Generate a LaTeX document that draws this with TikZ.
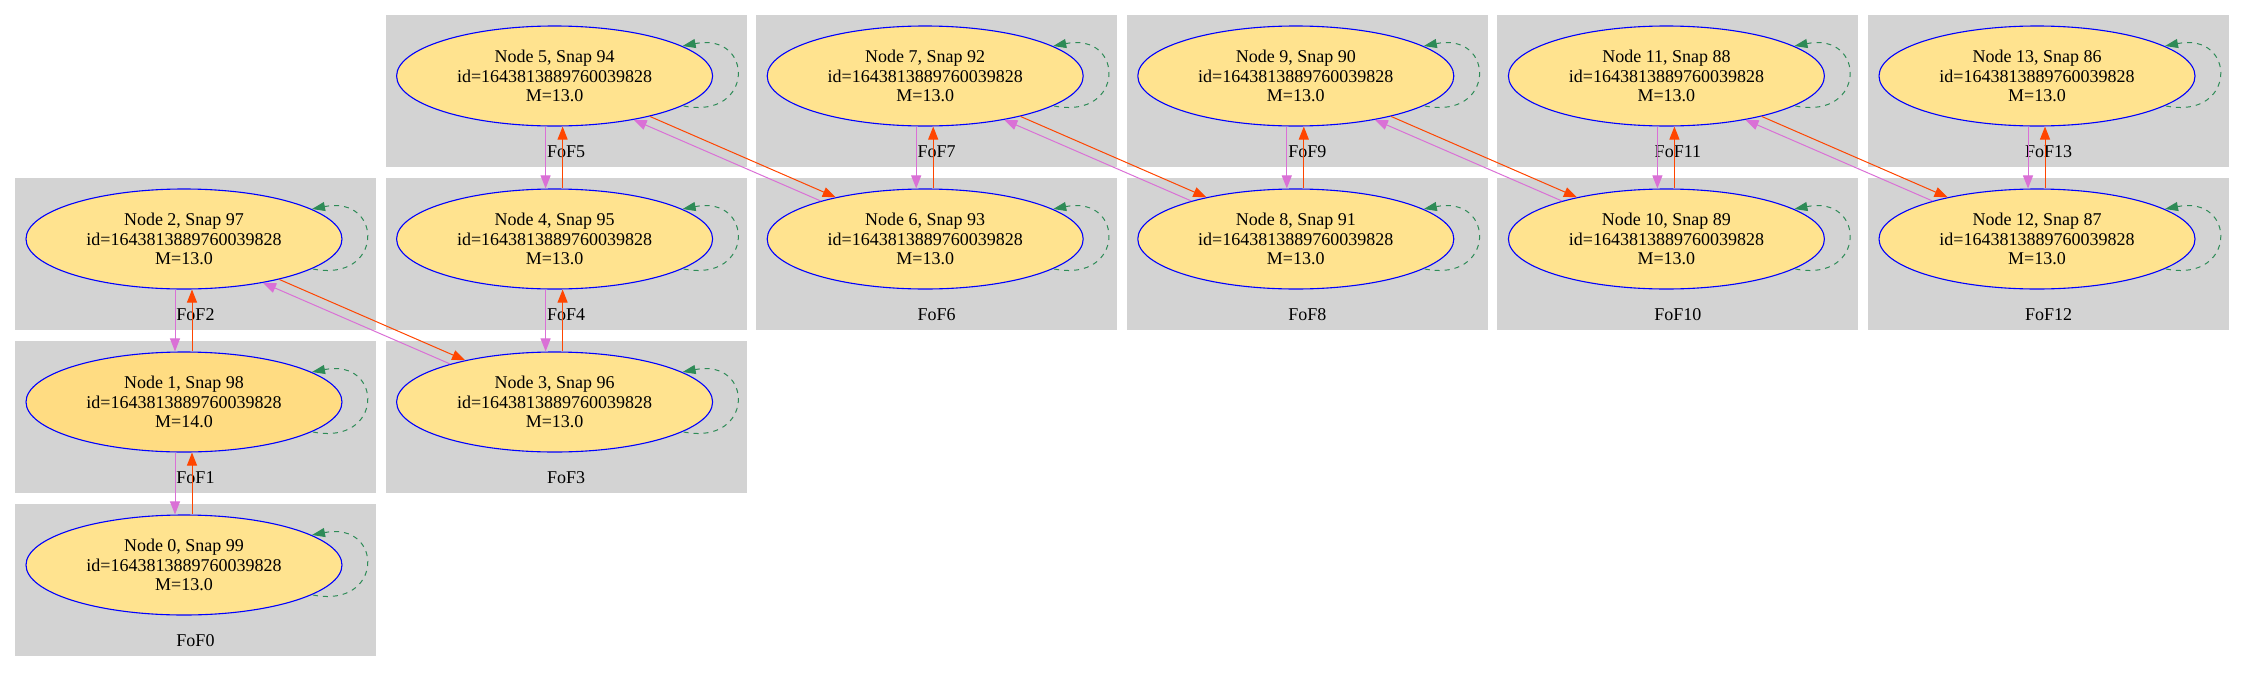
\documentclass[tikz,border=0pt]{standalone}
\usepackage{fontspec}
\setmainfont{Liberation Serif}
\usetikzlibrary{arrows.meta,shapes.geometric}
\definecolor{clgray}{HTML}{D3D3D3}
\definecolor{nodefill}{HTML}{FFE38F}
\definecolor{nodefillb}{HTML}{FFDC82}
\definecolor{orchidc}{HTML}{DA70D6}
\definecolor{orangeredc}{HTML}{FF4500}
\definecolor{seagreenc}{HTML}{2E8B57}
\begin{document}
\begin{tikzpicture}[x=1pt,y=-1pt,
  cluster/.style={fill=clgray,draw=none},
  foflabel/.style={font=\fontsize{18}{19.5}\selectfont,inner sep=0pt},
  halo/.style={ellipse,draw=blue,line width=1.1pt,minimum width=316pt,minimum height=100pt,
    inner sep=0pt,align=center,font=\fontsize{18}{19.5}\selectfont},
  tip/.style={-{Triangle[length=13pt,width=10pt]}},
  prog/.style={draw=orchidc,line width=1pt,tip},
  desc/.style={draw=orangeredc,line width=1pt,tip},
  selfloop/.style={draw=seagreenc,line width=1pt,dash pattern=on 5pt off 5pt,
    -{Triangle[length=13pt,width=9pt]}}]
\useasboundingbox (0,0) rectangle (2245,672);
\foreach \k/\cx/\cy/\m/\fc in {0/15/504/13.0/nodefill, 1/15/341/14.0/nodefillb, 2/15/178/13.0/nodefill,
  3/385.6/341/13.0/nodefill, 4/385.6/178/13.0/nodefill, 5/385.6/15/13.0/nodefill,
  6/756.2/178/13.0/nodefill, 7/756.2/15/13.0/nodefill, 8/1126.8/178/13.0/nodefill,
  9/1126.8/15/13.0/nodefill, 10/1497.4/178/13.0/nodefill, 11/1497.4/15/13.0/nodefill,
  12/1868/178/13.0/nodefill, 13/1868/15/13.0/nodefill}{
  \pgfmathtruncatemacro\snap{99-\k}
  \path[cluster] (\cx,\cy) rectangle ++(361,152);
  \node[foflabel] (lab\k) at (\cx+180.5,\cy+137) {FoF\k};
  \node[halo,fill=\fc] (n\k) at (\cx+169,\cy+61) {Node \k, Snap \snap\\id=1643813889760039828\\M=\m};
}
\foreach \u/\l in {2/1,1/0,5/4,4/3,7/6,9/8,11/10,13/12}{
  \draw[prog] ([xshift=-9pt]n\u.south) -- ([xshift=-9pt]n\l.north);
  \draw[desc] ([xshift=8pt]n\l.north) -- ([xshift=8pt]n\u.south);
}
\foreach \a/\b in {2/3,5/6,7/8,9/10,11/12}{
  \draw[desc] (n\a.-23) -- (n\b.155);
  \draw[prog] (n\b.160) -- (n\a.-29);
}
\foreach \k in {0,...,13}{
  \draw[selfloop] ([shift={(129,30)}]n\k.center) .. controls ([shift={(200,44)}]n\k.center) and ([shift={(200,-44)}]n\k.center) .. ([shift={(128,-30)}]n\k.center);
}
\end{tikzpicture}
\end{document}
